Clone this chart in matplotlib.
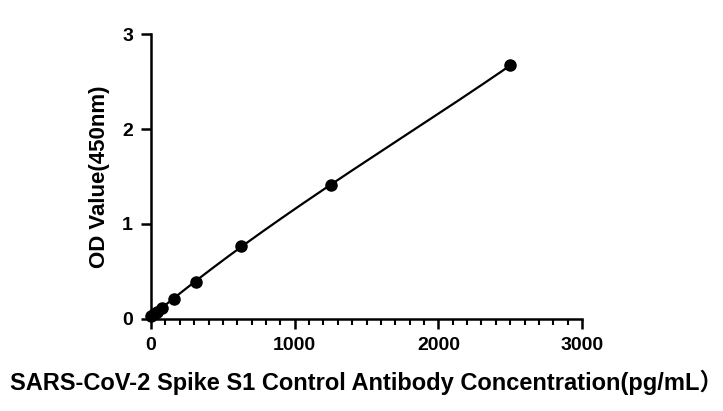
import matplotlib
matplotlib.use("Agg")

import matplotlib.pyplot as plt
import numpy as np

# standard curve points
concentration = [0, 19.5, 39, 78, 156, 312.5, 625, 1250, 2500]
od_value = [0.03, 0.05, 0.07, 0.12, 0.21, 0.39, 0.77, 1.41, 2.67]

x_ticks = [0, 1000, 2000, 3000]
y_ticks = [0, 1, 2, 3]

x_label = "SARS-CoV-2 Spike S1 Control Antibody Concentration(pg/mL）"
y_label = "OD Value(450nm)"

plt.rcParams["font.family"] = ["Liberation Sans", "Noto Sans CJK SC", "DejaVu Sans"]
plt.rcParams["font.weight"] = "bold"

fig = plt.figure(figsize=(7.23, 4.11), dpi=100)
ax = fig.add_axes([0.209, 0.224, 0.596, 0.693])

# smooth fitted curve through the points
coef = np.polyfit(concentration, od_value, 3)
xs = np.linspace(min(concentration), max(concentration), 300)
ax.plot(xs, np.polyval(coef, xs), color="black", linewidth=1.6, clip_on=False)

ax.plot(concentration, od_value, "o", color="black", markersize=8, clip_on=False, zorder=3)

ax.set_xlim(0, 3000)
ax.set_ylim(0, 3)
ax.set_xticks(x_ticks)
ax.set_yticks(y_ticks)
ax.set_xticks(np.arange(0, 3001, 100), minor=True)

for side in ["top", "right"]:
    ax.spines[side].set_visible(False)
for side in ["left", "bottom"]:
    ax.spines[side].set_linewidth(1.8)

ax.tick_params(axis="both", which="major", length=7, width=1.8, labelsize=14, pad=6)
ax.tick_params(axis="x", which="minor", length=4, width=1.5)

ax.set_xlabel(x_label, fontsize=17, fontweight="bold", labelpad=11)
ax.set_ylabel(y_label, fontsize=16, fontweight="bold", labelpad=9)

plt.savefig("out.png", dpi=100)
plt.close()
